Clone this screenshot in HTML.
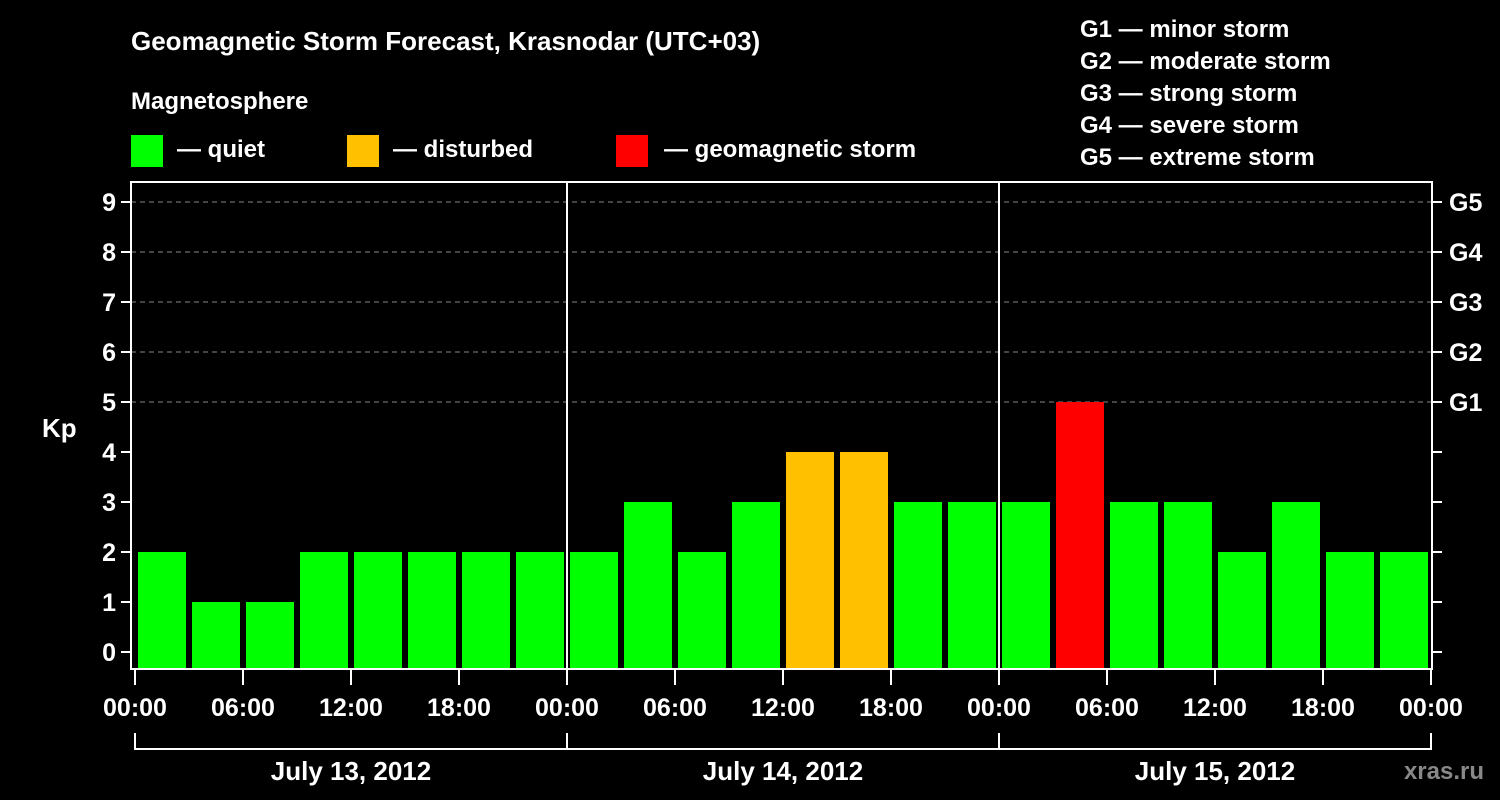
<!DOCTYPE html>
<html><head><meta charset="utf-8"><style>
html,body{margin:0;padding:0;background:#000;}
svg{display:block;font-family:"Liberation Sans",Arial,sans-serif;font-weight:bold;}
</style></head><body>
<svg id="chart" width="1500" height="800" viewBox="0 0 1500 800">
<text x="131" y="50" fill="#fff" font-size="26">Geomagnetic Storm Forecast, Krasnodar (UTC+03)</text>
<text x="131" y="109" fill="#fff" font-size="24">Magnetosphere</text>
<g><rect x="131" y="135" width="32" height="32" fill="#00ff00"/><text x="177" y="157" fill="#fff" font-size="24">— quiet</text></g>
<g><rect x="347" y="135" width="32" height="32" fill="#ffc000"/><text x="393" y="157" fill="#fff" font-size="24">— disturbed</text></g>
<g><rect x="616" y="135" width="32" height="32" fill="#ff0000"/><text x="664" y="157" fill="#fff" font-size="24">— geomagnetic storm</text></g>
<g fill="#fff" font-size="24">
<text x="1080" y="37">G1 — minor storm</text>
<text x="1080" y="69">G2 — moderate storm</text>
<text x="1080" y="101">G3 — strong storm</text>
<text x="1080" y="133">G4 — severe storm</text>
<text x="1080" y="165">G5 — extreme storm</text>
</g>
<text x="42" y="437" fill="#fff" font-size="26">Kp</text>
<text x="1484" y="779" fill="#888" font-size="24" text-anchor="end">xras.ru</text>
<g id="plot"></g>
</svg>
<script>
const kpValues=[2,1,1,2,2,2,2,2, 2,3,2,3,4,4,3,3, 3,5,3,3,2,3,2,2];
const yTicks=[0,1,2,3,4,5,6,7,8,9];
const gLabels=["G1","G2","G3","G4","G5"];
const gLevels=[5,6,7,8,9];
const xTickLabels=["00:00","06:00","12:00","18:00","00:00","06:00","12:00","18:00","00:00","06:00","12:00","18:00","00:00"];
const dayLabels=["July 13, 2012","July 14, 2012","July 15, 2012"];

const NS="http://www.w3.org/2000/svg";
const g=document.getElementById('plot');
const X0=135,SLOT=54,L=131,R=1432,T=182,B=669;
const y=v=>652-50*v;
const x=i=>X0+SLOT*i;
function mk(tag,attrs,txt){const e=document.createElementNS(NS,tag);for(const k in attrs)e.setAttribute(k,attrs[k]);if(txt!=null)e.textContent=txt;g.appendChild(e);return e;}
function col(v){return v>=5?"#ff0000":v>=4?"#ffc000":"#00ff00";}

gLevels.forEach(v=>{const e=mk('line',{x1:L,x2:R,y1:y(v),y2:y(v),stroke:'#888','stroke-dasharray':'5,4','stroke-width':1});

});

kpValues.forEach((v,i)=>{const e=mk('rect',{x:x(i)+3,y:y(v),width:48,height:B-y(v),fill:col(v)});

});

[1,2].forEach(d=>{const e=mk('line',{x1:x(d*8),x2:x(d*8),y1:T,y2:B,stroke:'#fff','stroke-width':2});

});

const fr=mk('rect',{x:L,y:T,width:R-L,height:B-T,fill:'none',stroke:'#fff','stroke-width':2});



yTicks.forEach(v=>{
 const t=mk('line',{x1:121,x2:L,y1:y(v),y2:y(v),stroke:'#fff','stroke-width':2});
 
 
 const t2=mk('line',{x1:R,x2:1442,y1:y(v),y2:y(v),stroke:'#fff','stroke-width':2});
 
 
 const l=mk('text',{x:116,y:y(v)+9,fill:'#fff','font-size':25,'text-anchor':'end'},String(v));
 
 
});
gLabels.forEach((s,i)=>{const l=mk('text',{x:1449,y:y(gLevels[i])+9,fill:'#fff','font-size':25},s);

});

xTickLabels.forEach((s,i)=>{const px=x(i*2);
 const t=mk('line',{x1:px,x2:px,y1:B,y2:685,stroke:'#fff','stroke-width':2});
 
 
 const l=mk('text',{x:px,y:716,fill:'#fff','font-size':25,'text-anchor':'middle'},s);
 
 });

const br=mk('line',{x1:x(0),x2:x(24),y1:749,y2:749,stroke:'#fff','stroke-width':2});


[0,8,16,24].forEach(i=>{const e=mk('line',{x1:x(i),x2:x(i),y1:733,y2:750,stroke:'#fff','stroke-width':2});

});
dayLabels.forEach((s,d)=>{const l=mk('text',{x:x(d*8+4),y:780,fill:'#fff','font-size':26,'text-anchor':'middle'},s);

});
</script>
</body></html>
